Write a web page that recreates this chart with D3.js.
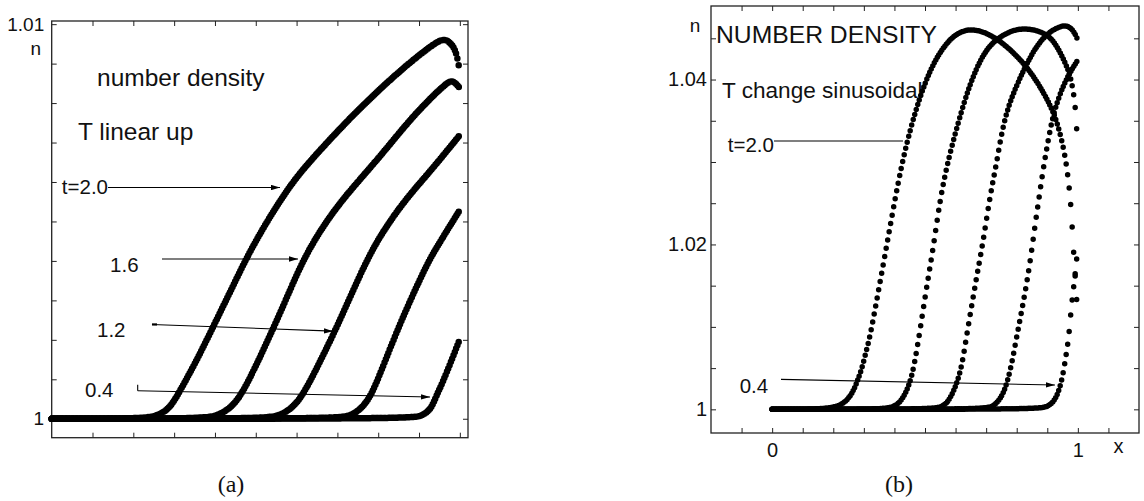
<!DOCTYPE html>
<meta charset="utf-8">
<script src="https://cdn.jsdelivr.net/npm/d3@7"></script>
<style>
  body { margin: 0; background: #fff; }
  text { font-family: "Liberation Sans", Arial, Helvetica, sans-serif; fill: #111; }
  .cap { font-family: "Liberation Serif", "Times New Roman", serif; font-size: 24px; }
</style>
<svg id="fig" width="1144" height="501"></svg>
<script>
// ---- panel (a): T linear up, n(x) at t = 2.0, 1.6, 1.2, 0.8, 0.4 ----
const linT20 = [[0,1],[0.216,1],[0.260,1.00007],[0.290,1.00027],[0.314,1.00070],[0.356,1.00149],[0.395,1.00232],[0.437,1.00321],[0.476,1.00405],[0.515,1.00478],[0.557,1.00549],[0.598,1.00610],[0.640,1.00661],[0.723,1.00754],[0.804,1.00836],[0.884,1.00909],[0.939,1.00952],[0.963,1.00965],[0.983,1.00947],[0.993,1.00922],[1.000,1.00879]];
const linT16 = [[0,1],[0.363,1],[0.407,1.00007],[0.442,1.00030],[0.469,1.00068],[0.505,1.00144],[0.542,1.00227],[0.579,1.00314],[0.615,1.00400],[0.657,1.00476],[0.713,1.00558],[0.804,1.00663],[0.884,1.00767],[0.968,1.00853],[0.983,1.00858],[1.000,1.00838]];
const linT12 = [[0,1],[0.515,1],[0.559,1.00007],[0.593,1.00030],[0.620,1.00068],[0.657,1.00144],[0.694,1.00222],[0.731,1.00308],[0.772,1.00402],[0.809,1.00471],[0.865,1.00554],[0.926,1.00625],[1.000,1.00719]];
const linT08 = [[0,1],[0.694,1],[0.735,1.00007],[0.765,1.00032],[0.787,1.00068],[0.816,1.00144],[0.846,1.00222],[0.882,1.00308],[0.922,1.00397],[0.944,1.00435],[0.968,1.00476],[1.000,1.00529]];
const linT04 = [[0,1],[0.878,1],[0.909,1.00007],[0.931,1.00027],[0.943,1.00060],[0.958,1.00092],[0.980,1.00149],[1.000,1.00202]];
const linCurves = [linT20, linT16, linT12, linT08, linT04];

const linXTicks = [0.1,0.2,0.3,0.4,0.5,0.6,0.7,0.8,0.9,1.0];
const linYTicks = [1,1.001,1.002,1.003,1.004,1.005,1.006,1.007,1.008,1.009,1.01];
const linYLabelled = [1, 1.01];

// ---- panel (b): T change sinusoidal ----
const sinT20 = [[0,1],[0.140,1],[0.204,1.00022],[0.237,1.00076],[0.261,1.00186],[0.278,1.00331],[0.294,1.00501],[0.307,1.00695],[0.320,1.00881],[0.340,1.01277],[0.359,1.01665],[0.379,1.02077],[0.402,1.02550],[0.425,1.02987],[0.451,1.03387],[0.484,1.03800],[0.517,1.04115],[0.549,1.04334],[0.592,1.04540],[0.651,1.04637],[0.735,1.04519],[0.833,1.04176],[0.893,1.03812],[0.925,1.03569],[0.948,1.03267],[0.964,1.02951],[0.977,1.02514],[0.983,1.02090],[0.992,1.01569],[1.000,1.01107]];
const sinT16 = [[0,1],[0.353,1],[0.395,1.00022],[0.425,1.00101],[0.451,1.00319],[0.464,1.00525],[0.479,1.00841],[0.502,1.01411],[0.526,1.01932],[0.549,1.02539],[0.572,1.02963],[0.604,1.03424],[0.647,1.03958],[0.691,1.04322],[0.735,1.04504],[0.811,1.04649],[0.903,1.04564],[0.935,1.04382],[0.961,1.04188],[0.975,1.04042],[0.984,1.03885],[0.991,1.03690],[0.995,1.03485],[0.998,1.03266],[1.000,1.03000]];
const sinT12 = [[0,1],[0.516,1],[0.559,1.00028],[0.582,1.00125],[0.605,1.00319],[0.621,1.00537],[0.634,1.00841],[0.654,1.01289],[0.673,1.01690],[0.691,1.02053],[0.713,1.02599],[0.735,1.03000],[0.752,1.03388],[0.778,1.03751],[0.827,1.04152],[0.866,1.04418],[0.903,1.04564],[0.935,1.04637],[0.964,1.04661],[0.985,1.04600],[1.000,1.04479]];
const sinT08 = [[0,1],[0.681,1],[0.723,1.00028],[0.749,1.00137],[0.768,1.00307],[0.785,1.00574],[0.801,1.00902],[0.817,1.01205],[0.834,1.01557],[0.847,1.01872],[0.860,1.02236],[0.873,1.02563],[0.886,1.02903],[0.903,1.03267],[0.920,1.03594],[0.953,1.03946],[0.985,1.04152],[1.000,1.04237]];
const sinT04 = [[0,1],[0.860,1],[0.903,1.00028],[0.925,1.00113],[0.939,1.00234],[0.950,1.00392],[0.961,1.00646],[0.970,1.00865],[0.976,1.01132],[0.983,1.01387],[0.991,1.01629],[0.997,1.01860],[1.000,1.01969]];
const sinCurves = [sinT20, sinT16, sinT12, sinT08, sinT04];

const sinXTicks = [-0.1,0,0.1,0.2,0.3,0.4,0.5,0.6,0.7,0.8,0.9,1.0,1.1];
const sinXLabelled = [0, 1];
const sinYTicks = [1,1.005,1.01,1.015,1.02,1.025,1.03,1.035,1.04,1.045];
const sinYLabelled = [1, 1.02, 1.04];

const svg = d3.select("#fig");

// arrow head
svg.append("defs").append("marker")
    .attr("id", "head")
    .attr("viewBox", "0 0 10 6")
    .attr("refX", 10).attr("refY", 3)
    .attr("markerWidth", 9).attr("markerHeight", 5.4)
    .attr("markerUnits", "userSpaceOnUse")
    .attr("orient", "auto")
  .append("path")
    .attr("d", "M0,0L10,3L0,6Z")
    .attr("fill", "#000");

const fmt = d => String(+d.toFixed(3));
const isIn = (arr, d) => arr.some(v => Math.abs(v - d) < 1e-9);

function frame(x, y, xt, yt, xl, yl, pad, fs) {
  const g = svg.append("g");
  const [x0, x1] = x.range(), [y0, y1] = y.range();
  g.append("rect")
    .attr("x", x0).attr("y", y1)
    .attr("width", x1 - x0).attr("height", y0 - y1)
    .attr("fill", "none").attr("stroke", "#222").attr("stroke-width", 1.3);

  const ax = [
    [d3.axisBottom(x).tickValues(xt).tickPadding(10).tickFormat(d => isIn(xl, d) ? fmt(d) : ""), `translate(0,${y0})`],
    [d3.axisTop(x).tickValues(xt).tickFormat(""), `translate(0,${y1})`],
    [d3.axisLeft(y).tickValues(yt).tickPadding(pad).tickFormat(d => isIn(yl, d) ? fmt(d) : ""), `translate(${x0},0)`],
    [d3.axisRight(y).tickValues(yt).tickFormat(""), `translate(${x1},0)`]
  ];
  ax.forEach(([a, t]) => {
    const s = g.append("g").attr("transform", t)
      .call(a.tickSizeInner(-5).tickSizeOuter(0));
    s.select(".domain").remove();
    s.selectAll("line").attr("stroke", "#222");
    s.selectAll("text").attr("font-size", fs)
      .attr("font-family", "Liberation Sans, Arial, sans-serif").attr("fill", "#111");
  });
}

// dotted marker look: one round dot each time the curve advances `step` px in x
function beads(path, step) {
  const node = path.node(), L = node.getTotalLength();
  const dash = [0];
  let lastL = 0, nextX = node.getPointAtLength(0).x + step;
  for (let l = 0.3; l < L; l += 0.3) {
    const px = node.getPointAtLength(l).x;
    if (px >= nextX) {
      dash.push(+(l - lastL).toFixed(2), 0);
      lastL = l;
      while (nextX <= px) nextX += step;
    }
  }
  dash.push(+(L - lastL).toFixed(2), 0, +L.toFixed(1));
  path.attr("stroke-dasharray", dash.join(" "));
}

function drawCurves(x, y, curves, w, step) {
  const line = d3.line().x(d => x(d[0])).y(d => y(d[1])).curve(d3.curveBasis);
  curves.forEach(c => {
    const p = svg.append("path")
      .attr("d", line(c))
      .attr("fill", "none").attr("stroke", "#000")
      .attr("stroke-width", w).attr("stroke-linecap", "round");
    beads(p, step);
  });
}

function arrow(x, y, a, b, head) {
  svg.append("line")
    .attr("x1", x(a[0])).attr("y1", y(a[1]))
    .attr("x2", x(b[0])).attr("y2", y(b[1]))
    .attr("stroke", "#000").attr("stroke-width", 1.1)
    .attr("marker-end", head ? "url(#head)" : null);
}

function label(x, y, pos, txt, fs, anchor) {
  svg.append("text")
    .attr("x", x(pos[0])).attr("y", y(pos[1]))
    .attr("font-size", fs).attr("text-anchor", anchor || "start")
    .text(txt);
}

// ================= panel (a) =================
const xa = d3.scaleLinear().domain([0, 1.02]).range([51.7, 468]);
const ya = d3.scaleLinear().domain([0.99952, 1.01008]).range([437.7, 21]);
frame(xa, ya, linXTicks, linYTicks, [], linYLabelled, 7.5, "19px");

label(xa, ya, [-0.039, 1.00922], "n", "19px", "middle");
label(xa, ya, [0.111, 1.00843], "number density", "24.5px");
label(xa, ya, [0.0644, 1.00706], "T linear up", "24.5px");
label(xa, ya, [0.138, 1.00570], "t=2.0", "20.5px", "end");
label(xa, ya, [0.143, 1.00373], "1.6", "20.5px");
label(xa, ya, [0.111, 1.00207], "1.2", "20.5px");
label(xa, ya, [0.0816, 1.00055], "0.4", "20.5px");

arrow(xa, ya, [0.138, 1.00586], [0.5594, 1.00586], true);
arrow(xa, ya, [0.2702, 1.00405], [0.6035, 1.00405], true);
arrow(xa, ya, [0.2457, 1.00239], [0.6892, 1.00222], true);
arrow(xa, ya, [0.2107, 1.00086], [0.2107, 1.00071], false);
arrow(xa, ya, [0.2107, 1.00071], [0.9269, 1.00055], true);
svg.append("line")
  .attr("x1", xa(0.2457)).attr("y1", ya(1.00239))
  .attr("x2", xa(0.2580)).attr("y2", ya(1.00239))
  .attr("stroke", "#000").attr("stroke-width", 2.2);

drawCurves(xa, ya, linCurves, 6.5, 1.3);

svg.append("text").attr("class", "cap")
  .attr("x", 231).attr("y", 492).attr("text-anchor", "middle").text("(a)");

// ================= panel (b) =================
const xb = d3.scaleLinear().domain([-0.2, 1.2]).range([711, 1139]);
const yb = d3.scaleLinear().domain([0.99713, 1.04892]).range([433, 6]);
frame(xb, yb, sinXTicks, sinYTicks, sinXLabelled, sinYLabelled, 4, "20px");

label(xb, yb, [-0.252, 1.04580], "n", "19px", "middle");
label(xb, yb, [1.133, 0.99470], "x", "20px", "middle");
label(xb, yb, [-0.1835, 1.04439], "NUMBER DENSITY", "24.7px");
label(xb, yb, [-0.164, 1.03772], "T change sinusoidal", "22.6px");
label(xb, yb, [0.006, 1.03121], "t=2.0", "20.5px", "end");
label(xb, yb, [-0.013, 1.00198], "0.4", "20.5px", "end");

arrow(xb, yb, [0.006, 1.03254], [0.428, 1.03254], false);
arrow(xb, yb, [0.029, 1.00364], [0.925, 1.00295], true);

drawCurves(xb, yb, sinCurves, 5.5, 1.5);

svg.append("text").attr("class", "cap")
  .attr("x", 899).attr("y", 492).attr("text-anchor", "middle").text("(b)");
</script>
